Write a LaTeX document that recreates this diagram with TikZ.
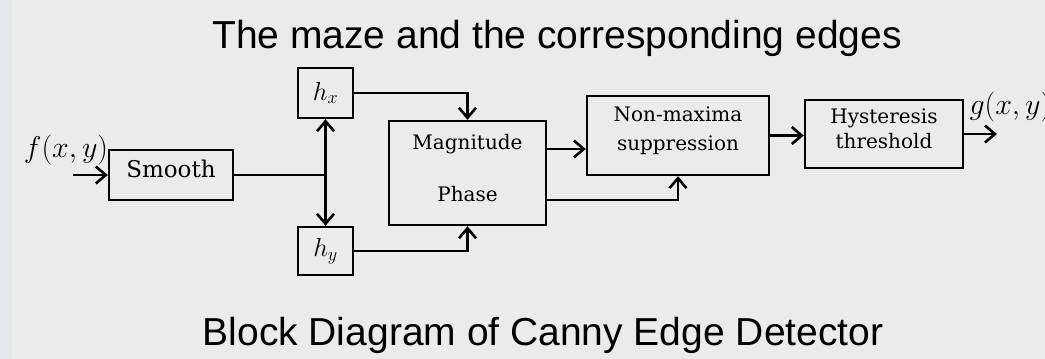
\RequirePackage{fix-cm}
\documentclass[tikz,border=0pt]{standalone}
\usepackage{fontspec}
\setmainfont{DejaVu Serif}
\newfontfamily\titlefont{Liberation Sans}
\usetikzlibrary{arrows.meta}
\definecolor{bg}{HTML}{EBEBEB}
\definecolor{strip}{HTML}{E3E7EA}
\begin{document}
\begin{tikzpicture}[x=1pt,y=-1pt,
  box/.style={draw,line width=2.4pt,inner sep=0pt},
  boxtext/.style={align=center,inner sep=0pt,font=\fontsize{20}{29}\selectfont},
  flow/.style={line width=2.6pt,-{Straight Barb[length=10pt,width=17pt]}},
  wire/.style={line width=2.6pt},
  every node/.style={text=black}]
  \useasboundingbox (0,0) rectangle (1045,359);
  \fill[bg] (0,0) rectangle (1045,359);
  \fill[strip] (0,0) rectangle (12,359);
  \node[font=\titlefont\fontsize{39}{44}\selectfont] (title) at (557,38) {The maze and the corresponding edges};
  \node[font=\titlefont\fontsize{39}{44}\selectfont] (caption) at (543,335) {Block Diagram of Canny Edge Detector};
  \node[box,minimum width=124pt,minimum height=50pt] (smooth) at (171,175) {};
  \node[box,minimum width=55pt,minimum height=50pt,font=\fontsize{26}{30}\selectfont] (hx) at (325.5,93) {$h_x$};
  \node[box,minimum width=55pt,minimum height=48pt,font=\fontsize{26}{30}\selectfont] (hy) at (325.5,251) {$h_y$};
  \node[box,minimum width=157pt,minimum height=104pt] (mag) at (467.5,173) {};
  \node[box,minimum width=182pt,minimum height=79pt] (nms) at (678,135.5) {};
  \node[box,minimum width=158pt,minimum height=68pt] (hyst) at (884,134) {};
  \node[boxtext,font=\fontsize{23}{26}\selectfont] (smoothtext) at ([yshift=6pt]smooth.center) {Smooth};
  \node[boxtext,font=\fontsize{20}{52}\selectfont] (magtext) at ([yshift=5pt]mag.center) {Magnitude\\Phase};
  \node[boxtext] (nmstext) at ([yshift=5pt]nms.center) {Non-maxima\\suppression};
  \node[boxtext,font=\fontsize{20}{25}\selectfont] (hysttext) at ([yshift=5pt]hyst.center) {Hysteresis\\threshold};
  \node[font=\fontsize{30}{34}\selectfont] (fin) at (66,150) {$f(x,y)$};
  \node[anchor=west,font=\fontsize{30}{34}\selectfont] (gout) at (966,107) {$g(x,y)$};
  \coordinate (in) at (73,175);
  \coordinate (split) at (325.5,175);
  \coordinate (out) at (997,134);
  \coordinate (magup) at ([yshift=24pt]mag.east);
  \coordinate (maglow) at ([yshift=-27pt]mag.east);
  \draw[flow] (in) -- (smooth.west);
  \draw[wire] (smooth.east) -- (split);
  \draw[flow] (split) -- (hx.south);
  \draw[flow] (split) -- (hy.north);
  \draw[flow] (hx.east) -| (mag.north);
  \draw[flow] (hy.east) -| (mag.south);
  \draw[flow] (magup) -- (magup -| nms.west);
  \draw[flow] (maglow) -| (nms.south);
  \draw[flow] (nms.east) -- (nms.east -| hyst.west);
  \draw[flow] (hyst.east) -- (out);
\end{tikzpicture}
\end{document}
